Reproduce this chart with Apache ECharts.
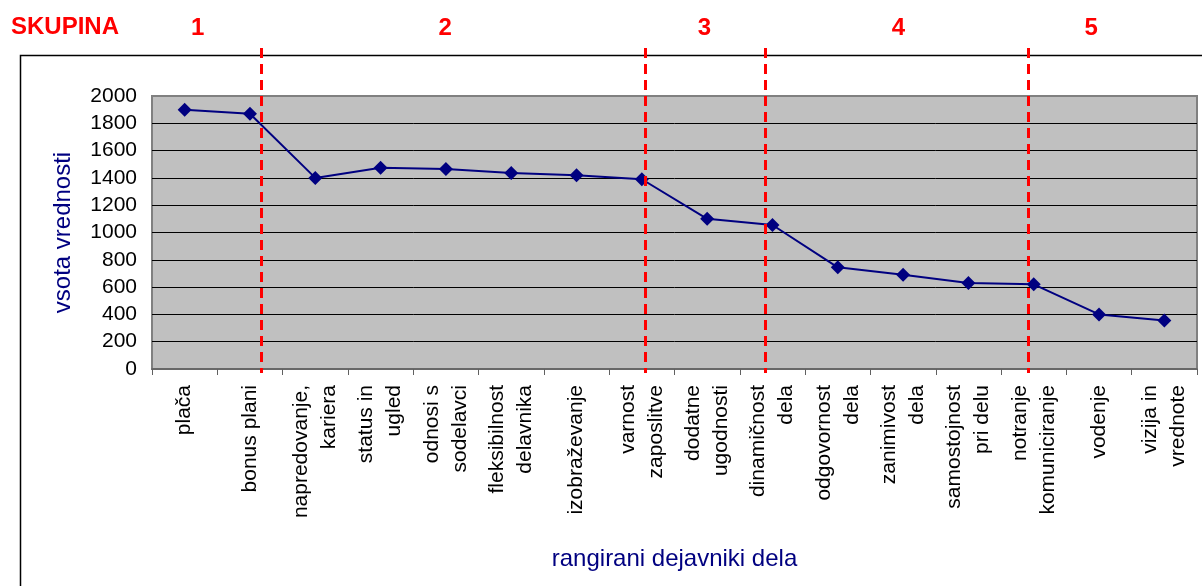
<!DOCTYPE html>
<html>
<head>
<meta charset="utf-8">
<style>
  html, body { margin: 0; padding: 0; background: #ffffff; }
  #chart { width: 1202px; height: 586px; }
</style>
<script src="https://cdn.jsdelivr.net/npm/echarts@6/dist/echarts.min.js"></script>
</head>
<body>
<div id="chart"></div>
<script>
// Work factors ranked by summed value
const categories = [
  'plača', 'bonus plani', 'napredovanje,\nkariera', 'status in\nugled',
  'odnosi s\nsodelavci', 'fleksibilnost\ndelavnika', 'izobraževanje',
  'varnost\nzaposlitve', 'dodatne\nugodnosti', 'dinamičnost\ndela',
  'odgovornost\ndela', 'zanimivost\ndela', 'samostojnost\npri delu',
  'notranje\nkomuniciranje', 'vodenje', 'vizija in\nvrednote'
];
const values = [1900, 1870, 1400, 1475, 1465, 1435, 1420, 1390, 1100, 1055, 745, 690, 630, 620, 400, 355];

// Group separators and group numbers, in category-width units (0 = left edge, 16 = right edge)
const groupTitle = 'SKUPINA';
const groupLabels = ['1', '2', '3', '4', '5'];
const groupLabelPos = [0.70, 4.49, 8.46, 11.43, 14.38];
const groupSeparators = [1.67, 7.55, 9.38, 13.42];

const FONT = '"Liberation Sans", Arial, sans-serif';
const NAVY = '#000080';
const RED = '#FF0000';

const chart = echarts.init(document.getElementById('chart'), null, { renderer: 'canvas' });

chart.setOption({
  animation: false,
  backgroundColor: '#ffffff',
  textStyle: { fontFamily: FONT },
  grid: {
    left: 152, right: 5, top: 96, bottom: 217,
    show: true,
    backgroundColor: '#C0C0C0',
    borderColor: '#808080',
    borderWidth: 2
  },
  xAxis: [{
    type: 'category',
    data: categories,
    boundaryGap: true,
    name: 'rangirani dejavniki dela',
    nameLocation: 'middle',
    nameGap: 178,
    nameTextStyle: { color: NAVY, fontSize: 24, fontFamily: FONT },
    axisLine: { show: true, lineStyle: { color: '#606060', width: 1.5 } },
    axisTick: { show: true, alignWithLabel: false, length: 6, lineStyle: { color: '#606060' } },
    axisLabel: {
      interval: 0, rotate: 90, margin: 16,
      fontSize: 21, lineHeight: 28, color: '#000000', fontFamily: FONT
    },
    splitLine: { show: false }
  }, {
    type: 'value',
    min: 0, max: 16,
    show: false
  }],
  yAxis: {
    type: 'value',
    min: 0, max: 2000, interval: 200,
    name: 'vsota vrednosti',
    nameLocation: 'middle',
    nameGap: 77,
    nameTextStyle: { color: NAVY, fontSize: 24, fontFamily: FONT },
    axisLine: { show: false },
    axisTick: { show: false },
    axisLabel: {
      fontSize: 21, color: '#000000', margin: 15, fontFamily: FONT,
      formatter: function (v) { return String(v); }
    },
    splitLine: {
      show: true, showMinLine: false, showMaxLine: false,
      lineStyle: { color: '#000000', width: 1 }
    }
  },
  series: [{
    type: 'line',
    data: values,
    xAxisIndex: 0,
    symbol: 'diamond',
    symbolSize: 14,
    lineStyle: { color: NAVY, width: 2 },
    itemStyle: { color: NAVY },
    z: 3
  }, {
    type: 'line',
    xAxisIndex: 1,
    data: [],
    silent: true
  }]
});

// Dashed group separators and group headings placed via the hidden value axis
const yTop = 48;
const yBottom = chart.convertToPixel({ yAxisIndex: 0 }, 0) + 4;
const graphics = [{
  type: 'rect',
  shape: { x: 20.5, y: 55.5, width: 1200, height: 560 },
  style: { fill: 'none', stroke: '#000000', lineWidth: 1.5 },
  z: -10,
  silent: true
}, {
  type: 'text',
  left: 11,
  top: 15,
  style: { text: groupTitle, fill: RED, font: 'bold 24px ' + FONT }
}];

groupSeparators.forEach(function (v) {
  const x = Math.round(chart.convertToPixel({ xAxisIndex: 1 }, v)) + 0.5;
  graphics.push({
    type: 'line',
    shape: { x1: x, y1: yTop, x2: x, y2: yBottom },
    style: { stroke: RED, lineWidth: 3, lineDash: [10, 6] },
    z: 100,
    silent: true
  });
});

groupLabels.forEach(function (t, i) {
  const x = chart.convertToPixel({ xAxisIndex: 1 }, groupLabelPos[i]);
  graphics.push({
    type: 'text',
    x: x,
    y: 28,
    style: {
      text: t, fill: RED, font: 'bold 24px ' + FONT,
      textAlign: 'center', textVerticalAlign: 'middle'
    },
    z: 100
  });
});

chart.setOption({ graphic: graphics });
</script>
</body>
</html>
